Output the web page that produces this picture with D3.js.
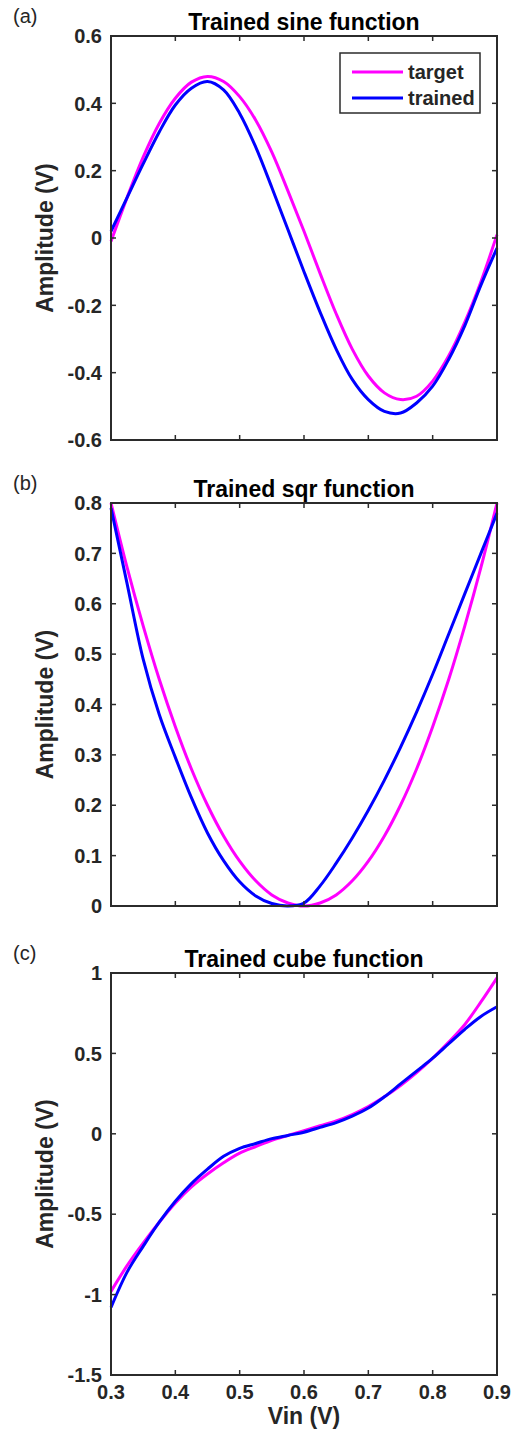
<!DOCTYPE html>
<html>
<head>
<meta charset="utf-8">
<script src="https://cdn.jsdelivr.net/npm/d3@7/dist/d3.min.js"></script>
<style>
	body { margin: 0; background: #fff; }
	text { font-family: "Liberation Sans", Arial, sans-serif; fill: #262626; }
</style>
</head>
<body>
<div id="chart"></div>
<script>
// x values (Vin) shared by all three panels
const vin = [0.3, 0.325, 0.35, 0.375, 0.4, 0.425, 0.45, 0.475, 0.5, 0.525, 0.55, 0.575, 0.6,
	0.625, 0.65, 0.675, 0.7, 0.725, 0.75, 0.775, 0.8, 0.825, 0.85, 0.875, 0.9];

const sineTarget = [-0.01, 0.12, 0.24, 0.34, 0.415, 0.463, 0.48, 0.465, 0.42, 0.35, 0.255, 0.14, 0.02,
	-0.105, -0.225, -0.33, -0.41, -0.46, -0.48, -0.47, -0.425, -0.35, -0.25, -0.13, 0.01];
const sineTrained = [0.02, 0.12, 0.22, 0.315, 0.395, 0.445, 0.465, 0.44, 0.37, 0.27, 0.15, 0.025, -0.1,
	-0.22, -0.33, -0.42, -0.48, -0.515, -0.52, -0.49, -0.44, -0.36, -0.26, -0.14, -0.03];

const sqrTarget = [0.8, 0.672, 0.556, 0.45, 0.356, 0.272, 0.2, 0.139, 0.089, 0.05, 0.022, 0.006, 0,
	0.006, 0.022, 0.05, 0.089, 0.139, 0.2, 0.272, 0.356, 0.45, 0.556, 0.672, 0.8];
const sqrTrained = [0.79, 0.64, 0.49, 0.38, 0.295, 0.215, 0.145, 0.09, 0.048, 0.02, 0.005, 0, 0.006,
	0.04, 0.085, 0.135, 0.19, 0.25, 0.315, 0.385, 0.46, 0.54, 0.62, 0.7, 0.78];

const cubeTarget = [-0.98, -0.82, -0.68, -0.55, -0.43, -0.33, -0.25, -0.18, -0.12, -0.08, -0.04, -0.01, 0.02,
	0.05, 0.08, 0.12, 0.17, 0.23, 0.3, 0.38, 0.47, 0.57, 0.68, 0.82, 0.97];
const cubeTrained = [-1.08, -0.86, -0.7, -0.55, -0.42, -0.31, -0.22, -0.14, -0.09, -0.06, -0.03, -0.01, 0.01,
	0.04, 0.07, 0.11, 0.16, 0.23, 0.31, 0.39, 0.47, 0.56, 0.65, 0.73, 0.79];

const xTicks = [0.3, 0.4, 0.5, 0.6, 0.7, 0.8, 0.9];
const sineTicks = [-0.6, -0.4, -0.2, 0, 0.2, 0.4, 0.6];
const sqrTicks = [0, 0.1, 0.2, 0.3, 0.4, 0.5, 0.6, 0.7, 0.8];
const cubeTicks = [-1.5, -1, -0.5, 0, 0.5, 1];

const seriesNames = ['target', 'trained'];
const seriesColors = ['#ff00ff', '#0000ff'];

const svg = d3.select("#chart").append("svg")
	.attr("width", 513)
	.attr("height", 1439);

const left = 111, right = 497;
const x = d3.scaleLinear().domain([0.3, 0.9]).range([left, right]);

function drawPanel(p) {
	const y = d3.scaleLinear().domain(p.domain).range([p.bottom, p.top]);
	const g = svg.append("g");
	const tickLen = 5;

	// panel letter
	g.append("text")
		.attr("x", 13).attr("y", p.top - 13)
		.attr("font-size", 20)
		.text(p.letter);

	// title
	g.append("text")
		.attr("x", (left + right) / 2).attr("y", p.top - 6)
		.attr("text-anchor", "middle")
		.attr("font-size", 23).attr("font-weight", "bold")
		.style("fill", "#000")
		.text(p.title);

	// curves
	const line = d3.line()
		.x((d, i) => x(vin[i]))
		.y(d => y(d))
		.curve(d3.curveCatmullRom);

	[p.target, p.trained].forEach((s, i) => {
		g.append("path")
			.attr("d", line(s))
			.attr("fill", "none")
			.attr("stroke", seriesColors[i])
			.attr("stroke-width", 3)
			.attr("stroke-linejoin", "round");
	});

	// box + inward ticks on all sides
	const axisColor = "#2b2b2b";
	g.append("rect")
		.attr("x", left).attr("y", p.top)
		.attr("width", right - left).attr("height", p.bottom - p.top)
		.attr("fill", "none").attr("stroke", axisColor).attr("stroke-width", 2);

	xTicks.forEach(t => {
		g.append("line").attr("x1", x(t)).attr("x2", x(t))
			.attr("y1", p.bottom).attr("y2", p.bottom - tickLen)
			.attr("stroke", axisColor).attr("stroke-width", 1.5);
		g.append("line").attr("x1", x(t)).attr("x2", x(t))
			.attr("y1", p.top).attr("y2", p.top + tickLen)
			.attr("stroke", axisColor).attr("stroke-width", 1.5);
	});
	p.ticks.forEach(t => {
		g.append("line").attr("x1", left).attr("x2", left + tickLen)
			.attr("y1", y(t)).attr("y2", y(t))
			.attr("stroke", axisColor).attr("stroke-width", 1.5);
		g.append("line").attr("x1", right).attr("x2", right - tickLen)
			.attr("y1", y(t)).attr("y2", y(t))
			.attr("stroke", axisColor).attr("stroke-width", 1.5);
		g.append("text")
			.attr("x", left - 9).attr("y", y(t))
			.attr("dy", "0.36em")
			.attr("text-anchor", "end")
			.attr("font-size", 20).attr("font-weight", "bold")
			.text(String(t));
	});

	// y label
	g.append("text")
		.attr("transform", `translate(53,${(p.top + p.bottom) / 2}) rotate(-90)`)
		.attr("text-anchor", "middle")
		.attr("font-size", 23).attr("font-weight", "bold")
		.text("Amplitude (V)");

	if (p.xLabels) {
		xTicks.forEach(t => {
			g.append("text")
				.attr("x", x(t)).attr("y", p.bottom + 24)
				.attr("text-anchor", "middle")
				.attr("font-size", 20).attr("font-weight", "bold")
				.text(String(t));
		});
		g.append("text")
			.attr("x", (left + right) / 2).attr("y", p.bottom + 49)
			.attr("text-anchor", "middle")
			.attr("font-size", 23).attr("font-weight", "bold")
			.text("Vin (V)");
	}

	if (p.legend) {
		const lg = g.append("g");
		lg.append("rect")
			.attr("x", 340).attr("y", 53).attr("width", 140).attr("height", 60)
			.attr("fill", "#fff").attr("stroke", axisColor).attr("stroke-width", 1.5);
		seriesNames.forEach((name, i) => {
			const ly = 72 + i * 26;
			lg.append("line").attr("x1", 352).attr("x2", 403)
				.attr("y1", ly).attr("y2", ly)
				.attr("stroke", seriesColors[i]).attr("stroke-width", 3);
			lg.append("text")
				.attr("x", 408).attr("y", ly).attr("dy", "0.36em")
				.attr("font-size", 20).attr("font-weight", "bold")
				.text(name);
		});
	}
}

drawPanel({ letter: "(a)", title: "Trained sine function", top: 36, bottom: 440,
	domain: [-0.6, 0.6], ticks: sineTicks, target: sineTarget, trained: sineTrained, legend: true });
drawPanel({ letter: "(b)", title: "Trained sqr function", top: 503, bottom: 906,
	domain: [0, 0.8], ticks: sqrTicks, target: sqrTarget, trained: sqrTrained });
drawPanel({ letter: "(c)", title: "Trained cube function", top: 973, bottom: 1375,
	domain: [-1.5, 1], ticks: cubeTicks, target: cubeTarget, trained: cubeTrained, xLabels: true });
</script>
</body>
</html>
